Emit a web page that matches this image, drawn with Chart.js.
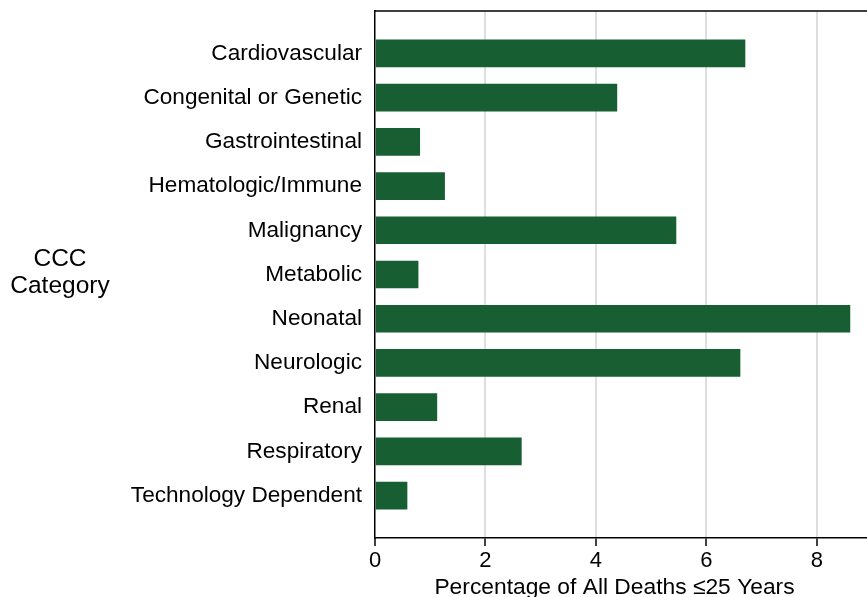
<!DOCTYPE html>
<html>
<head>
<meta charset="utf-8">
<script src="https://cdn.jsdelivr.net/npm/chart.js@4"></script>
<style>
  html, body { margin: 0; padding: 0; background: #fff; overflow: hidden; }
  #wrap { width: 880px; height: 597px; position: relative; }
</style>
</head>
<body>
<div id="wrap"><canvas id="chart"></canvas></div>
<script>
const categories = [
  "Cardiovascular", "Congenital or Genetic", "Gastrointestinal", "Hematologic/Immune",
  "Malignancy", "Metabolic", "Neonatal", "Neurologic", "Renal", "Respiratory",
  "Technology Dependent"
]
const percentDeaths = [6.70, 4.38, 0.81, 1.26, 5.45, 0.78, 8.60, 6.61, 1.12, 2.65, 0.58]
const xTicks = [0, 2, 4, 6, 8]

const FONT = "'Liberation Sans', Arial, Helvetica, sans-serif"
const GREEN = "#185e33"

const titlesPlugin = {
  id: "titles",
  afterDraw(chart) {
    const { ctx, chartArea } = chart
    ctx.save()
    // top frame line
    ctx.strokeStyle = "#000"
    ctx.lineWidth = 1.5
    ctx.beginPath()
    ctx.moveTo(chartArea.left, chartArea.top)
    ctx.lineTo(chartArea.right, chartArea.top)
    ctx.stroke()

    ctx.fillStyle = "#000"
    ctx.textAlign = "center"
    ctx.textBaseline = "alphabetic"
    ctx.font = `24.5px ${FONT}`
    ctx.fillText("CCC", 60, 266)
    ctx.fillText("Category", 60, 293)
    ctx.font = `22.8px ${FONT}`
    ctx.fillText("Percentage of All Deaths \u226425 Years", 614.5, 594)
    ctx.restore()
  }
}

new Chart(document.getElementById("chart"), {
  type: "bar",
  data: {
    datasets: [{
      data: percentDeaths.map((v, i) => ({ x: v, y: i })),
      backgroundColor: GREEN,
      borderWidth: 0,
      barThickness: 27,
    }]
  },
  options: {
    indexAxis: "y",
    responsive: true,
    maintainAspectRatio: false,
    animation: false,
    layout: { padding: { top: 11, right: 8, left: 0, bottom: 0 } },
    plugins: { legend: { display: false }, tooltip: { enabled: false } },
    scales: {
      x: {
        type: "linear",
        min: 0,
        max: 9,
        afterBuildTicks: (scale) => { scale.ticks = xTicks.map(v => ({ value: v })) },
        afterFit: (scale) => { scale.height = 59 },
        grid: {
          color: (c) => c.tick && c.tick.value === 0 ? "rgba(0,0,0,0)" : "#dedede",
          lineWidth: 2,
          tickColor: "#000",
          tickWidth: 1.5,
          tickLength: 8,
        },
        border: { color: "#000", width: 1.5 },
        ticks: { color: "#000", font: { family: FONT, size: 22 }, padding: 2, maxRotation: 0 },
      },
      y: {
        type: "linear",
        reverse: true,
        offset: false,
        min: -0.96,
        max: 10.96,
        afterBuildTicks: (scale) => { scale.ticks = categories.map((_, i) => ({ value: i })) },
        afterFit: (scale) => {
          scale.width = 375
          scale.paddingTop = 0
          scale.paddingBottom = 0
        },
        grid: { display: false, drawTicks: false },
        border: { color: "#000", width: 1.5 },
        ticks: {
          color: "#000",
          font: { family: FONT, size: 22.6 },
          padding: 13,
          callback: (v) => categories[v],
        },
      },
    },
  },
  plugins: [titlesPlugin],
})
</script>
</body>
</html>
